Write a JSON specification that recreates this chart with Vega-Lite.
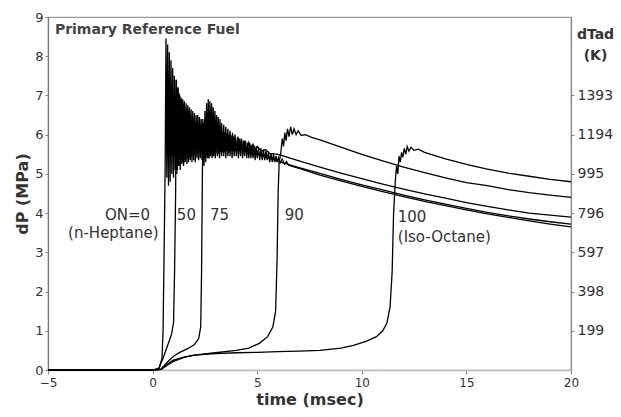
{
  "$schema": "https://vega.github.io/schema/vega-lite/v6.json",
  "width": 523,
  "height": 353,
  "autosize": "none",
  "padding": {"left": 48, "top": 17, "right": 50, "bottom": 47},
  "background": "white",
  "config": {
    "view": {"stroke": "#9a9a9a", "strokeWidth": 1.2},
    "font": "DejaVu Sans",
    "axis": {"grid": false, "labelFont": "DejaVu Sans", "titleFont": "DejaVu Sans", "labelColor": "#333", "titleColor": "#333", "tickColor": "#888", "labelFontSize": 13, "labelOverlap": false}
  },
  "datasets": {
    "curves": [
      {"ON": "0", "t": -5, "dP": 0}, {"ON": "0", "t": 0.0, "dP": 0}, {"ON": "0", "t": 0.3, "dP": 0.02}, {"ON": "0", "t": 0.45, "dP": 0.3}, {"ON": "0", "t": 0.5, "dP": 1.0}, {"ON": "0", "t": 0.55, "dP": 3.0},
      {"ON": "0", "t": 0.60, "dP": 5.2}, {"ON": "0", "t": 0.64, "dP": 8.45}, {"ON": "0", "t": 0.68, "dP": 4.9}, {"ON": "0", "t": 0.72, "dP": 8.3}, {"ON": "0", "t": 0.76, "dP": 4.7}, {"ON": "0", "t": 0.80, "dP": 8.1}, {"ON": "0", "t": 0.84, "dP": 4.8}, {"ON": "0", "t": 0.88, "dP": 7.9}, {"ON": "0", "t": 0.92, "dP": 5.0}, {"ON": "0", "t": 0.96, "dP": 7.7}, {"ON": "0", "t": 1.00, "dP": 4.9}, {"ON": "0", "t": 1.04, "dP": 7.5}, {"ON": "0", "t": 1.08, "dP": 5.1}, {"ON": "0", "t": 1.12, "dP": 7.4}, {"ON": "0", "t": 1.16, "dP": 5.0}, {"ON": "0", "t": 1.20, "dP": 7.2}, {"ON": "0", "t": 1.24, "dP": 5.2}, {"ON": "0", "t": 1.28, "dP": 7.05}, {"ON": "0", "t": 1.32, "dP": 5.1}, {"ON": "0", "t": 1.36, "dP": 6.95}, {"ON": "0", "t": 1.40, "dP": 5.25}, {"ON": "0", "t": 1.44, "dP": 6.9}, {"ON": "0", "t": 1.48, "dP": 5.2}, {"ON": "0", "t": 1.52, "dP": 6.85}, {"ON": "0", "t": 1.56, "dP": 5.3}, {"ON": "0", "t": 1.60, "dP": 6.8}, {"ON": "0", "t": 1.64, "dP": 5.25}, {"ON": "0", "t": 1.68, "dP": 6.75}, {"ON": "0", "t": 1.72, "dP": 5.3}, {"ON": "0", "t": 1.76, "dP": 6.7}, {"ON": "0", "t": 1.80, "dP": 5.35}, {"ON": "0", "t": 1.84, "dP": 6.65}, {"ON": "0", "t": 1.88, "dP": 5.3}, {"ON": "0", "t": 1.92, "dP": 6.6}, {"ON": "0", "t": 1.96, "dP": 5.35}, {"ON": "0", "t": 2.00, "dP": 6.55}, {"ON": "0", "t": 2.04, "dP": 5.3}, {"ON": "0", "t": 2.08, "dP": 6.5}, {"ON": "0", "t": 2.12, "dP": 5.4}, {"ON": "0", "t": 2.16, "dP": 6.5}, {"ON": "0", "t": 2.20, "dP": 5.35}, {"ON": "0", "t": 2.24, "dP": 6.45}, {"ON": "0", "t": 2.28, "dP": 5.4}, {"ON": "0", "t": 2.32, "dP": 6.4}, {"ON": "0", "t": 2.36, "dP": 5.35}, {"ON": "0", "t": 2.40, "dP": 6.4}, {"ON": "0", "t": 2.44, "dP": 5.4}, {"ON": "0", "t": 2.48, "dP": 6.35}, {"ON": "0", "t": 2.52, "dP": 5.4}, {"ON": "0", "t": 2.56, "dP": 6.3}, {"ON": "0", "t": 2.60, "dP": 5.45}, {"ON": "0", "t": 2.64, "dP": 6.3}, {"ON": "0", "t": 2.68, "dP": 5.4}, {"ON": "0", "t": 2.72, "dP": 6.25}, {"ON": "0", "t": 2.76, "dP": 5.45}, {"ON": "0", "t": 2.80, "dP": 6.25}, {"ON": "0", "t": 2.84, "dP": 5.4}, {"ON": "0", "t": 2.88, "dP": 6.2}, {"ON": "0", "t": 2.92, "dP": 5.45}, {"ON": "0", "t": 2.96, "dP": 6.2}, {"ON": "0", "t": 3.00, "dP": 5.4}, {"ON": "0", "t": 3.05, "dP": 6.15}, {"ON": "0", "t": 3.10, "dP": 5.45}, {"ON": "0", "t": 3.15, "dP": 6.12}, {"ON": "0", "t": 3.20, "dP": 5.4}, {"ON": "0", "t": 3.25, "dP": 6.1}, {"ON": "0", "t": 3.30, "dP": 5.45}, {"ON": "0", "t": 3.35, "dP": 6.08}, {"ON": "0", "t": 3.40, "dP": 5.45}, {"ON": "0", "t": 3.45, "dP": 6.05}, {"ON": "0", "t": 3.50, "dP": 5.4}, {"ON": "0", "t": 3.55, "dP": 6.03}, {"ON": "0", "t": 3.60, "dP": 5.45}, {"ON": "0", "t": 3.65, "dP": 6.0}, {"ON": "0", "t": 3.70, "dP": 5.45}, {"ON": "0", "t": 3.75, "dP": 5.98}, {"ON": "0", "t": 3.80, "dP": 5.4}, {"ON": "0", "t": 3.85, "dP": 5.96}, {"ON": "0", "t": 3.90, "dP": 5.45}, {"ON": "0", "t": 3.95, "dP": 5.94}, {"ON": "0", "t": 4.00, "dP": 5.45}, {"ON": "0", "t": 4.05, "dP": 5.92}, {"ON": "0", "t": 4.10, "dP": 5.4}, {"ON": "0", "t": 4.15, "dP": 5.9}, {"ON": "0", "t": 4.20, "dP": 5.45}, {"ON": "0", "t": 4.25, "dP": 5.88}, {"ON": "0", "t": 4.30, "dP": 5.4}, {"ON": "0", "t": 4.35, "dP": 5.85}, {"ON": "0", "t": 4.40, "dP": 5.45}, {"ON": "0", "t": 4.45, "dP": 5.83}, {"ON": "0", "t": 4.50, "dP": 5.4}, {"ON": "0", "t": 4.55, "dP": 5.8}, {"ON": "0", "t": 4.60, "dP": 5.4}, {"ON": "0", "t": 4.65, "dP": 5.78}, {"ON": "0", "t": 4.70, "dP": 5.4}, {"ON": "0", "t": 4.75, "dP": 5.75}, {"ON": "0", "t": 4.80, "dP": 5.4}, {"ON": "0", "t": 4.85, "dP": 5.72}, {"ON": "0", "t": 4.90, "dP": 5.35}, {"ON": "0", "t": 4.95, "dP": 5.7}, {"ON": "0", "t": 5.00, "dP": 5.4}, {"ON": "0", "t": 5.06, "dP": 5.68}, {"ON": "0", "t": 5.12, "dP": 5.35}, {"ON": "0", "t": 5.18, "dP": 5.65}, {"ON": "0", "t": 5.24, "dP": 5.35}, {"ON": "0", "t": 5.30, "dP": 5.62}, {"ON": "0", "t": 5.36, "dP": 5.35}, {"ON": "0", "t": 5.42, "dP": 5.58}, {"ON": "0", "t": 5.48, "dP": 5.35}, {"ON": "0", "t": 5.54, "dP": 5.56}, {"ON": "0", "t": 5.60, "dP": 5.3}, {"ON": "0", "t": 5.66, "dP": 5.52}, {"ON": "0", "t": 5.72, "dP": 5.3}, {"ON": "0", "t": 5.78, "dP": 5.5}, {"ON": "0", "t": 5.84, "dP": 5.3}, {"ON": "0", "t": 5.90, "dP": 5.46}, {"ON": "0", "t": 5.96, "dP": 5.3}, {"ON": "0", "t": 6.02, "dP": 5.42}, {"ON": "0", "t": 6.1, "dP": 5.28}, {"ON": "0", "t": 6.2, "dP": 5.38}, {"ON": "0", "t": 6.3, "dP": 5.25}, {"ON": "0", "t": 6.4, "dP": 5.32}, {"ON": "0", "t": 6.5, "dP": 5.22},
      {"ON": "0", "t": 7, "dP": 5.14}, {"ON": "0", "t": 8, "dP": 4.97}, {"ON": "0", "t": 9, "dP": 4.82}, {"ON": "0", "t": 10, "dP": 4.68}, {"ON": "0", "t": 11, "dP": 4.55}, {"ON": "0", "t": 12, "dP": 4.42}, {"ON": "0", "t": 13, "dP": 4.3}, {"ON": "0", "t": 14, "dP": 4.19}, {"ON": "0", "t": 15, "dP": 4.08}, {"ON": "0", "t": 16, "dP": 3.98}, {"ON": "0", "t": 17, "dP": 3.89}, {"ON": "0", "t": 18, "dP": 3.8}, {"ON": "0", "t": 19, "dP": 3.72}, {"ON": "0", "t": 20, "dP": 3.65},

      {"ON": "50", "t": -5, "dP": 0}, {"ON": "50", "t": 0.0, "dP": 0}, {"ON": "50", "t": 0.3, "dP": 0.05}, {"ON": "50", "t": 0.5, "dP": 0.3}, {"ON": "50", "t": 0.7, "dP": 0.6}, {"ON": "50", "t": 0.9, "dP": 0.9}, {"ON": "50", "t": 1.0, "dP": 1.2}, {"ON": "50", "t": 1.05, "dP": 2.5}, {"ON": "50", "t": 1.1, "dP": 4.5}, {"ON": "50", "t": 1.14, "dP": 7.4}, {"ON": "50", "t": 1.18, "dP": 5.1}, {"ON": "50", "t": 1.22, "dP": 7.2}, {"ON": "50", "t": 1.26, "dP": 5.2}, {"ON": "50", "t": 1.30, "dP": 7.0}, {"ON": "50", "t": 1.34, "dP": 5.25}, {"ON": "50", "t": 1.38, "dP": 6.9}, {"ON": "50", "t": 1.42, "dP": 5.3}, {"ON": "50", "t": 1.46, "dP": 6.8}, {"ON": "50", "t": 1.50, "dP": 5.3}, {"ON": "50", "t": 1.54, "dP": 6.7}, {"ON": "50", "t": 1.58, "dP": 5.35}, {"ON": "50", "t": 1.62, "dP": 6.65}, {"ON": "50", "t": 1.66, "dP": 5.4}, {"ON": "50", "t": 1.70, "dP": 6.6}, {"ON": "50", "t": 1.75, "dP": 5.4}, {"ON": "50", "t": 1.80, "dP": 6.5}, {"ON": "50", "t": 1.85, "dP": 5.45}, {"ON": "50", "t": 1.90, "dP": 6.45}, {"ON": "50", "t": 1.95, "dP": 5.45}, {"ON": "50", "t": 2.0, "dP": 6.4}, {"ON": "50", "t": 2.06, "dP": 5.45}, {"ON": "50", "t": 2.12, "dP": 6.35}, {"ON": "50", "t": 2.18, "dP": 5.5}, {"ON": "50", "t": 2.24, "dP": 6.3}, {"ON": "50", "t": 2.30, "dP": 5.5}, {"ON": "50", "t": 2.36, "dP": 6.25}, {"ON": "50", "t": 2.42, "dP": 5.5}, {"ON": "50", "t": 2.5, "dP": 6.15}, {"ON": "50", "t": 2.58, "dP": 5.5}, {"ON": "50", "t": 2.66, "dP": 6.1}, {"ON": "50", "t": 2.75, "dP": 5.5}, {"ON": "50", "t": 2.85, "dP": 6.05}, {"ON": "50", "t": 2.95, "dP": 5.55}, {"ON": "50", "t": 3.05, "dP": 5.95}, {"ON": "50", "t": 3.2, "dP": 5.55}, {"ON": "50", "t": 3.4, "dP": 5.85}, {"ON": "50", "t": 3.6, "dP": 5.55}, {"ON": "50", "t": 3.8, "dP": 5.75}, {"ON": "50", "t": 4.0, "dP": 5.58}, {"ON": "50", "t": 4.3, "dP": 5.65}, {"ON": "50", "t": 4.6, "dP": 5.5}, {"ON": "50", "t": 5, "dP": 5.5}, {"ON": "50", "t": 6, "dP": 5.32}, {"ON": "50", "t": 7, "dP": 5.16}, {"ON": "50", "t": 8, "dP": 5.01}, {"ON": "50", "t": 9, "dP": 4.86}, {"ON": "50", "t": 10, "dP": 4.72}, {"ON": "50", "t": 11, "dP": 4.59}, {"ON": "50", "t": 12, "dP": 4.46}, {"ON": "50", "t": 13, "dP": 4.34}, {"ON": "50", "t": 14, "dP": 4.23}, {"ON": "50", "t": 15, "dP": 4.12}, {"ON": "50", "t": 16, "dP": 4.02}, {"ON": "50", "t": 17, "dP": 3.93}, {"ON": "50", "t": 18, "dP": 3.85}, {"ON": "50", "t": 19, "dP": 3.78}, {"ON": "50", "t": 20, "dP": 3.72},

      {"ON": "75", "t": -5, "dP": 0}, {"ON": "75", "t": 0.0, "dP": 0}, {"ON": "75", "t": 0.4, "dP": 0.02}, {"ON": "75", "t": 0.7, "dP": 0.2}, {"ON": "75", "t": 1.0, "dP": 0.35}, {"ON": "75", "t": 1.3, "dP": 0.45}, {"ON": "75", "t": 1.7, "dP": 0.55}, {"ON": "75", "t": 2.0, "dP": 0.65}, {"ON": "75", "t": 2.2, "dP": 0.8}, {"ON": "75", "t": 2.30, "dP": 1.1}, {"ON": "75", "t": 2.34, "dP": 2.5}, {"ON": "75", "t": 2.38, "dP": 5.0}, {"ON": "75", "t": 2.42, "dP": 6.3}, {"ON": "75", "t": 2.46, "dP": 5.2}, {"ON": "75", "t": 2.50, "dP": 6.6}, {"ON": "75", "t": 2.54, "dP": 5.3}, {"ON": "75", "t": 2.58, "dP": 6.8}, {"ON": "75", "t": 2.62, "dP": 5.4}, {"ON": "75", "t": 2.66, "dP": 6.9}, {"ON": "75", "t": 2.70, "dP": 5.4}, {"ON": "75", "t": 2.74, "dP": 6.85}, {"ON": "75", "t": 2.78, "dP": 5.5}, {"ON": "75", "t": 2.82, "dP": 6.8}, {"ON": "75", "t": 2.86, "dP": 5.45}, {"ON": "75", "t": 2.90, "dP": 6.7}, {"ON": "75", "t": 2.94, "dP": 5.5}, {"ON": "75", "t": 2.98, "dP": 6.6}, {"ON": "75", "t": 3.02, "dP": 5.5}, {"ON": "75", "t": 3.06, "dP": 6.5}, {"ON": "75", "t": 3.10, "dP": 5.55}, {"ON": "75", "t": 3.14, "dP": 6.45}, {"ON": "75", "t": 3.18, "dP": 5.5}, {"ON": "75", "t": 3.22, "dP": 6.4}, {"ON": "75", "t": 3.26, "dP": 5.55}, {"ON": "75", "t": 3.30, "dP": 6.3}, {"ON": "75", "t": 3.35, "dP": 5.55}, {"ON": "75", "t": 3.40, "dP": 6.25}, {"ON": "75", "t": 3.45, "dP": 5.55}, {"ON": "75", "t": 3.50, "dP": 6.2}, {"ON": "75", "t": 3.55, "dP": 5.6}, {"ON": "75", "t": 3.60, "dP": 6.15}, {"ON": "75", "t": 3.65, "dP": 5.55}, {"ON": "75", "t": 3.70, "dP": 6.1}, {"ON": "75", "t": 3.76, "dP": 5.6}, {"ON": "75", "t": 3.82, "dP": 6.05}, {"ON": "75", "t": 3.88, "dP": 5.6}, {"ON": "75", "t": 3.94, "dP": 6.0}, {"ON": "75", "t": 4.00, "dP": 5.6}, {"ON": "75", "t": 4.08, "dP": 5.95}, {"ON": "75", "t": 4.16, "dP": 5.6}, {"ON": "75", "t": 4.24, "dP": 5.9}, {"ON": "75", "t": 4.32, "dP": 5.6}, {"ON": "75", "t": 4.40, "dP": 5.85}, {"ON": "75", "t": 4.50, "dP": 5.6}, {"ON": "75", "t": 4.60, "dP": 5.8}, {"ON": "75", "t": 4.70, "dP": 5.6}, {"ON": "75", "t": 4.80, "dP": 5.75}, {"ON": "75", "t": 4.90, "dP": 5.6}, {"ON": "75", "t": 5.0, "dP": 5.7}, {"ON": "75", "t": 5.2, "dP": 5.58}, {"ON": "75", "t": 5.4, "dP": 5.62}, {"ON": "75", "t": 5.6, "dP": 5.52}, {"ON": "75", "t": 6, "dP": 5.5}, {"ON": "75", "t": 7, "dP": 5.33}, {"ON": "75", "t": 8, "dP": 5.17}, {"ON": "75", "t": 9, "dP": 5.02}, {"ON": "75", "t": 10, "dP": 4.88}, {"ON": "75", "t": 11, "dP": 4.74}, {"ON": "75", "t": 12, "dP": 4.61}, {"ON": "75", "t": 13, "dP": 4.49}, {"ON": "75", "t": 14, "dP": 4.38}, {"ON": "75", "t": 15, "dP": 4.27}, {"ON": "75", "t": 16, "dP": 4.17}, {"ON": "75", "t": 17, "dP": 4.08}, {"ON": "75", "t": 18, "dP": 4.0}, {"ON": "75", "t": 19, "dP": 3.95}, {"ON": "75", "t": 20, "dP": 3.9},

      {"ON": "90", "t": -5, "dP": 0}, {"ON": "90", "t": 0.0, "dP": 0}, {"ON": "90", "t": 0.4, "dP": 0.02}, {"ON": "90", "t": 0.7, "dP": 0.15}, {"ON": "90", "t": 1.0, "dP": 0.25}, {"ON": "90", "t": 1.5, "dP": 0.33}, {"ON": "90", "t": 2.0, "dP": 0.38}, {"ON": "90", "t": 3.0, "dP": 0.44}, {"ON": "90", "t": 4.0, "dP": 0.5}, {"ON": "90", "t": 4.6, "dP": 0.56}, {"ON": "90", "t": 5.1, "dP": 0.68}, {"ON": "90", "t": 5.5, "dP": 0.85}, {"ON": "90", "t": 5.75, "dP": 1.1}, {"ON": "90", "t": 5.88, "dP": 1.5}, {"ON": "90", "t": 5.95, "dP": 2.8}, {"ON": "90", "t": 6.0, "dP": 4.5}, {"ON": "90", "t": 6.05, "dP": 5.3}, {"ON": "90", "t": 6.12, "dP": 5.5}, {"ON": "90", "t": 6.2, "dP": 5.9}, {"ON": "90", "t": 6.26, "dP": 5.7}, {"ON": "90", "t": 6.32, "dP": 6.05}, {"ON": "90", "t": 6.38, "dP": 5.85}, {"ON": "90", "t": 6.45, "dP": 6.15}, {"ON": "90", "t": 6.52, "dP": 5.95}, {"ON": "90", "t": 6.6, "dP": 6.2}, {"ON": "90", "t": 6.68, "dP": 6.0}, {"ON": "90", "t": 6.76, "dP": 6.15}, {"ON": "90", "t": 6.86, "dP": 6.0}, {"ON": "90", "t": 6.96, "dP": 6.1}, {"ON": "90", "t": 7.1, "dP": 5.98}, {"ON": "90", "t": 7.3, "dP": 6.0}, {"ON": "90", "t": 7.6, "dP": 5.93}, {"ON": "90", "t": 8.0, "dP": 5.87}, {"ON": "90", "t": 9, "dP": 5.68}, {"ON": "90", "t": 10, "dP": 5.5}, {"ON": "90", "t": 11, "dP": 5.33}, {"ON": "90", "t": 12, "dP": 5.17}, {"ON": "90", "t": 13, "dP": 5.03}, {"ON": "90", "t": 14, "dP": 4.9}, {"ON": "90", "t": 15, "dP": 4.78}, {"ON": "90", "t": 16, "dP": 4.7}, {"ON": "90", "t": 17, "dP": 4.6}, {"ON": "90", "t": 18, "dP": 4.52}, {"ON": "90", "t": 19, "dP": 4.46}, {"ON": "90", "t": 20, "dP": 4.4},

      {"ON": "100", "t": -5, "dP": 0}, {"ON": "100", "t": 0.0, "dP": 0}, {"ON": "100", "t": 0.4, "dP": 0.01}, {"ON": "100", "t": 0.7, "dP": 0.12}, {"ON": "100", "t": 1.0, "dP": 0.22}, {"ON": "100", "t": 1.5, "dP": 0.32}, {"ON": "100", "t": 2.0, "dP": 0.38}, {"ON": "100", "t": 3.0, "dP": 0.42}, {"ON": "100", "t": 4.0, "dP": 0.44}, {"ON": "100", "t": 5.0, "dP": 0.45}, {"ON": "100", "t": 6.0, "dP": 0.47}, {"ON": "100", "t": 7.0, "dP": 0.48}, {"ON": "100", "t": 8.0, "dP": 0.5}, {"ON": "100", "t": 9.0, "dP": 0.56}, {"ON": "100", "t": 9.6, "dP": 0.63}, {"ON": "100", "t": 10.2, "dP": 0.73}, {"ON": "100", "t": 10.7, "dP": 0.85}, {"ON": "100", "t": 11.0, "dP": 1.0}, {"ON": "100", "t": 11.2, "dP": 1.2}, {"ON": "100", "t": 11.35, "dP": 1.6}, {"ON": "100", "t": 11.45, "dP": 2.5}, {"ON": "100", "t": 11.52, "dP": 4.0}, {"ON": "100", "t": 11.6, "dP": 4.8}, {"ON": "100", "t": 11.66, "dP": 5.2}, {"ON": "100", "t": 11.72, "dP": 5.0}, {"ON": "100", "t": 11.78, "dP": 5.45}, {"ON": "100", "t": 11.84, "dP": 5.3}, {"ON": "100", "t": 11.9, "dP": 5.55}, {"ON": "100", "t": 11.96, "dP": 5.42}, {"ON": "100", "t": 12.03, "dP": 5.65}, {"ON": "100", "t": 12.1, "dP": 5.5}, {"ON": "100", "t": 12.17, "dP": 5.7}, {"ON": "100", "t": 12.25, "dP": 5.58}, {"ON": "100", "t": 12.35, "dP": 5.68}, {"ON": "100", "t": 12.5, "dP": 5.6}, {"ON": "100", "t": 12.7, "dP": 5.63}, {"ON": "100", "t": 13.0, "dP": 5.55}, {"ON": "100", "t": 14, "dP": 5.38}, {"ON": "100", "t": 15, "dP": 5.24}, {"ON": "100", "t": 16, "dP": 5.12}, {"ON": "100", "t": 17, "dP": 5.02}, {"ON": "100", "t": 18, "dP": 4.94}, {"ON": "100", "t": 19, "dP": 4.86}, {"ON": "100", "t": 20, "dP": 4.8}
    ],
    "labels": [
      {"label": "ON=0", "t": -2.28, "dP": 3.95},
      {"label": "(n-Heptane)", "t": -4.04, "dP": 3.5},
      {"label": "50", "t": 1.16, "dP": 3.95},
      {"label": "75", "t": 2.74, "dP": 3.95},
      {"label": "90", "t": 6.32, "dP": 3.95},
      {"label": "100", "t": 11.72, "dP": 3.9},
      {"label": "(Iso-Octane)", "t": 11.72, "dP": 3.39}
    ],
    "heading": [
      {"label": "Primary Reference Fuel", "t": -4.67, "dP": 8.67}
    ],
    "tempAxis": [
      {"dTad": 0}, {"dTad": 1791}
    ]
  },
  "layer": [
    {
      "encoding": {
        "x": {"field": "t", "type": "quantitative", "scale": {"domain": [-5, 20], "nice": false}, "axis": {"values": [-5, 0, 5, 10, 15, 20], "title": "time (msec)", "titleFontSize": 16, "titleFontWeight": "bold", "titlePadding": 3, "labelPadding": 3, "tickSize": 4, "labelFontSize": 12, "labelOverlap": false, "domainColor": "#bdbdbd", "domainWidth": 1.5, "labelFlush": false}},
        "y": {"field": "dP", "type": "quantitative", "scale": {"domain": [0, 9], "nice": false}, "axis": {"values": [0, 1, 2, 3, 4, 5, 6, 7, 8, 9], "title": "dP  (MPa)", "titleFontSize": 16, "titleFontWeight": "bold", "titlePadding": 4, "labelPadding": 2, "tickSize": 3, "labelOverlap": false, "domainColor": "#777", "domainWidth": 1.2, "labelFlush": false}}
      },
      "layer": [
        {
          "data": {"name": "curves"},
          "mark": {"type": "line", "color": "black", "strokeWidth": 1.3, "interpolate": "linear"},
          "encoding": {
            "detail": {"field": "ON", "type": "nominal"}
          }
        },
        {
          "data": {"name": "labels"},
          "mark": {"type": "text", "align": "left", "baseline": "middle", "fontSize": 15, "color": "#333", "font": "DejaVu Sans"},
          "encoding": {
            "text": {"field": "label", "type": "nominal"}
          }
        },
        {
          "data": {"name": "heading"},
          "mark": {"type": "text", "align": "left", "baseline": "middle", "fontSize": 14, "fontWeight": "bold", "color": "#444", "font": "DejaVu Sans"},
          "encoding": {
            "text": {"field": "label", "type": "nominal"}
          }
        }
      ]
    },
    {
      "data": {"name": "tempAxis"},
      "mark": {"type": "point", "opacity": 0},
      "encoding": {
        "y": {"field": "dTad", "type": "quantitative", "scale": {"domain": [0, 1791], "nice": false}, "axis": {"orient": "right", "values": [199, 398, 597, 796, 995, 1194, 1393], "format": "d", "labelFontSize": 14, "title": ["dTad", "(K)"], "titleAngle": 0, "titleAlign": "center", "titleBaseline": "top", "titleX": 24, "titleY": 10, "titleFontSize": 14, "titleFontWeight": "bold", "titleLineHeight": 21, "labelPadding": 3, "tickSize": 3, "domainColor": "#888", "domainWidth": 1.2, "labelFlush": false}}
      }
    }
  ],
  "resolve": {"scale": {"y": "independent"}}
}
